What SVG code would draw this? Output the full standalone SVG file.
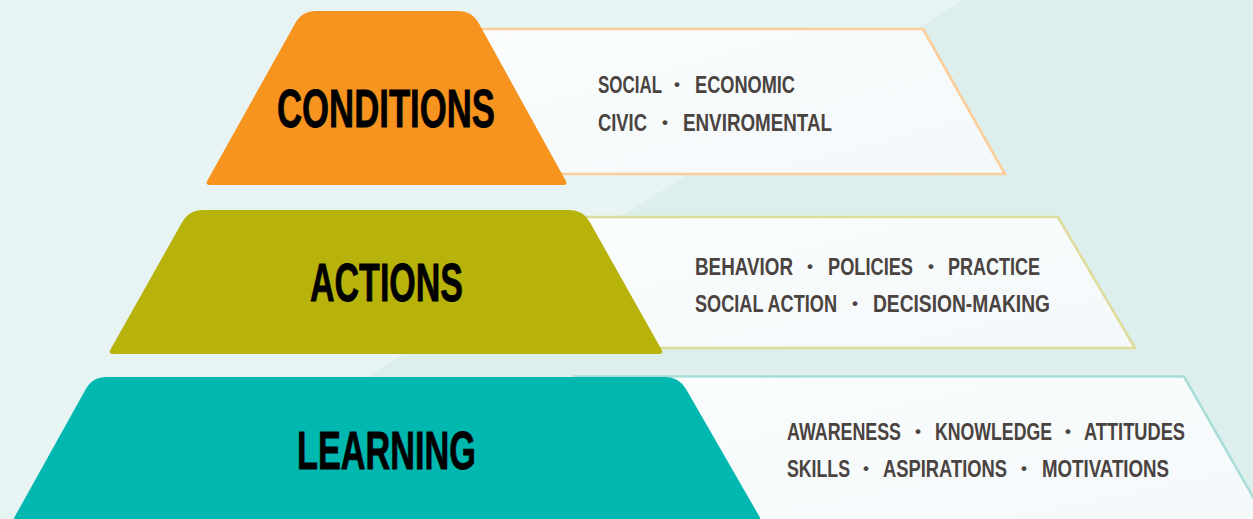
<svg xmlns="http://www.w3.org/2000/svg" width="1253" height="519" viewBox="0 0 1253 519">
  <defs>
    <linearGradient id="panelFill" x1="0" y1="0" x2="1" y2="1">
      <stop offset="0" stop-color="#fbfdfd"/>
      <stop offset="1" stop-color="#f3f8fa"/>
    </linearGradient>
    <style>
      .title { font-family: "Liberation Sans", Arial, sans-serif; font-weight: bold; font-size: 53px; fill: #000; stroke: #000; stroke-width: 0.8px; }
      .item { font-family: "Liberation Sans", Arial, sans-serif; font-weight: bold; font-size: 24px; fill: #4a4340; }
      .dot { font-family: "Liberation Sans", Arial, sans-serif; font-weight: bold; font-size: 17px; fill: #4a4340; text-anchor: middle; }
      .panel { fill: url(#panelFill); stroke-width: 2.6; stroke-linejoin: miter; }
    </style>
  </defs>

  <!-- background -->
  <rect x="0" y="0" width="1253" height="519" fill="#e8f4f4"/>
  <polygon points="963,0 1253,0 1253,519 143,519" fill="#ddefec"/>

  <!-- CONDITIONS tier -->
  <g id="conditions">
    <polygon class="panel" stroke="#fbcd9a" points="470,29 923,29 1005,174 550,174"/>
    <path fill="#f7941f" d="M316,11 L458,11 Q472,11 478.8,23.3 L565.6,180.6 Q568,185 563,185 L210,185 Q205,185 207.4,180.6 L295.2,23.2 Q302,11 316,11 Z"/>
    <text class="title" x="277" y="127" textLength="218" lengthAdjust="spacingAndGlyphs">CONDITIONS</text>
    <text class="item" x="598" y="93" textLength="64" lengthAdjust="spacingAndGlyphs">SOCIAL</text>
    <text class="dot" x="677" y="90">•</text>
    <text class="item" x="695" y="93" textLength="100" lengthAdjust="spacingAndGlyphs">ECONOMIC</text>
    <text class="item" x="598" y="131" textLength="49" lengthAdjust="spacingAndGlyphs">CIVIC</text>
    <text class="dot" x="665" y="128">•</text>
    <text class="item" x="683" y="131" textLength="149" lengthAdjust="spacingAndGlyphs">ENVIROMENTAL</text>
  </g>

  <!-- ACTIONS tier -->
  <g id="actions">
    <polygon class="panel" stroke="#dedc9c" points="575,217 1058,217 1135,348 650,348"/>
    <path fill="#b8b30b" d="M203,210 L569,210 Q583,210 589.9,222.2 L661.5,349.6 Q664,354 659,354 L113,354 Q108,354 110.5,349.6 L182.1,222.2 Q189,210 203,210 Z"/>
    <text class="title" x="310" y="301" textLength="153" lengthAdjust="spacingAndGlyphs">ACTIONS</text>
    <text class="item" x="695" y="275" textLength="98" lengthAdjust="spacingAndGlyphs">BEHAVIOR</text>
    <text class="dot" x="810" y="272">•</text>
    <text class="item" x="828" y="275" textLength="85" lengthAdjust="spacingAndGlyphs">POLICIES</text>
    <text class="dot" x="931" y="272">•</text>
    <text class="item" x="948" y="275" textLength="92" lengthAdjust="spacingAndGlyphs">PRACTICE</text>
    <text class="item" x="695" y="312" textLength="142" lengthAdjust="spacingAndGlyphs">SOCIAL ACTION</text>
    <text class="dot" x="855" y="309">•</text>
    <text class="item" x="873" y="312" textLength="177" lengthAdjust="spacingAndGlyphs">DECISION-MAKING</text>
  </g>

  <!-- LEARNING tier -->
  <g id="learning">
    <polygon class="panel" stroke="#a9ddd9" points="575,376.5 1184,376.5 1272,530 662,530"/>
    <path fill="#00b8b0" d="M106.5,377 L665,377 Q679,377 686,389.1 L759.5,516.7 Q762,521 757,521 L17.4,521 Q12.4,521 14.8,516.6 L85.7,389.2 Q92.5,377 106.5,377 Z"/>
    <text class="title" x="297" y="469" textLength="179" lengthAdjust="spacingAndGlyphs">LEARNING</text>
    <text class="item" x="787" y="440" textLength="114" lengthAdjust="spacingAndGlyphs">AWARENESS</text>
    <text class="dot" x="918" y="437">•</text>
    <text class="item" x="935" y="440" textLength="117" lengthAdjust="spacingAndGlyphs">KNOWLEDGE</text>
    <text class="dot" x="1068" y="437">•</text>
    <text class="item" x="1084" y="440" textLength="101" lengthAdjust="spacingAndGlyphs">ATTITUDES</text>
    <text class="item" x="787" y="477" textLength="63" lengthAdjust="spacingAndGlyphs">SKILLS</text>
    <text class="dot" x="866" y="474">•</text>
    <text class="item" x="883" y="477" textLength="124" lengthAdjust="spacingAndGlyphs">ASPIRATIONS</text>
    <text class="dot" x="1024" y="474">•</text>
    <text class="item" x="1042" y="477" textLength="127" lengthAdjust="spacingAndGlyphs">MOTIVATIONS</text>
  </g>
</svg>
